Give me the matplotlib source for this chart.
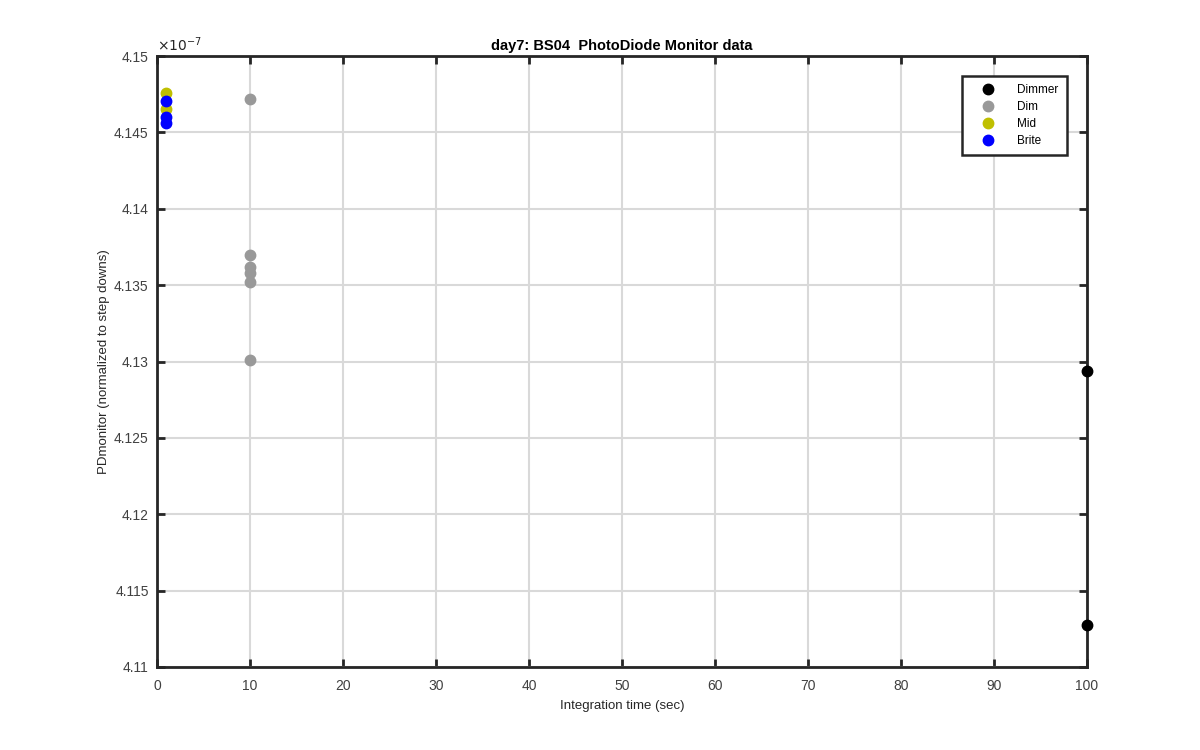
import numpy as np
import matplotlib.pyplot as plt

plt.rcParams['font.family'] = ['Liberation Sans', 'DejaVu Sans']

# PD monitor values in units of 1e-7
dimmer_t = [100, 100]
dimmer_pd = [4.12938, 4.11275]
dim_t = [10, 10, 10, 10, 10, 10]
dim_pd = [4.14718, 4.13697, 4.13621, 4.13577, 4.13522, 4.13010]
mid_t = [1, 1]
mid_pd = [4.14756, 4.14653]
brite_t = [1, 1, 1]
brite_pd = [4.14705, 4.14603, 4.14559]

xticks = np.arange(0, 101, 10)
yticks = [4.11, 4.115, 4.12, 4.125, 4.13, 4.135, 4.14, 4.145, 4.15]
ytick_labels = ['4.11', '4.115', '4.12', '4.125', '4.13', '4.135', '4.14', '4.145', '4.15']

dark = (0.15, 0.15, 0.15)

fig = plt.figure(figsize=(12, 7.5), dpi=100)
ax = fig.add_axes([0.1308, 0.1107, 0.775, 0.8146])

ms = 7.5
ax.plot(dimmer_t, dimmer_pd, 'o', color='black', ms=ms, label='Dimmer', clip_on=False, zorder=5)
ax.plot(dim_t, dim_pd, 'o', color=(0.6, 0.6, 0.6), ms=ms, label='Dim', clip_on=False, zorder=5)
ax.plot(mid_t, mid_pd, 'o', color=(0.75, 0.75, 0), ms=ms, label='Mid', clip_on=False, zorder=5)
ax.plot(brite_t, brite_pd, 'o', color='blue', ms=ms, label='Brite', clip_on=False, zorder=5)

ax.set_xlim(0, 100)
ax.set_ylim(4.11, 4.15)
ax.set_xticks(xticks)
ax.set_yticks(yticks)
ax.set_yticklabels(ytick_labels)
ax.grid(True, color=(0.85, 0.85, 0.85), linewidth=1.5)
ax.set_axisbelow(True)

for s in ax.spines.values():
    s.set_linewidth(2)
    s.set_color(dark)
    s.set_zorder(4)
ax.tick_params(direction='in', length=6, width=2, top=True, right=True,
               labelsize=10, colors=dark, labelcolor=(0.25, 0.25, 0.25))
ax.tick_params(axis='x', pad=9)
ax.tick_params(axis='y', pad=6)

ax.text(0, 1.004, r'$\times10^{-7}$', transform=ax.transAxes, fontsize=10,
        color=dark, va='bottom', ha='left')

ax.set_xlabel('Integration time (sec)', fontsize=9.5, color=dark, labelpad=5)
ax.set_ylabel('PDmonitor (normalized to step downs)', fontsize=9.5, color=dark, labelpad=3)
ax.set_title('day7: BS04  PhotoDiode Monitor data', fontsize=10.5, fontweight='bold', pad=4)

leg = ax.legend(loc='upper right', bbox_to_anchor=(0.9785, 0.9673), fontsize=8.5,
                fancybox=False, framealpha=1, edgecolor=dark,
                handletextpad=1.0, borderpad=0.7, labelspacing=0.42, handlelength=3.0,
                borderaxespad=0)
leg.get_frame().set_linewidth(1.8)
leg.set_zorder(6)

fig.savefig('out.png', dpi=100)
